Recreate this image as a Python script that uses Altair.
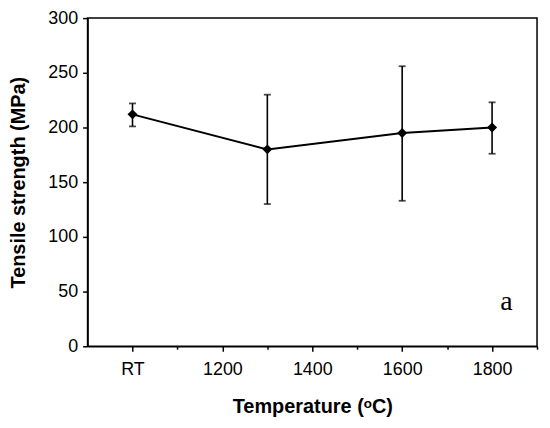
import altair as alt
import pandas as pd

temps = [1000, 1300, 1600, 1800]
strength = [212, 180, 195, 200]
upper = [222, 230, 256, 223]
lower = [201, 130, 133, 176]

x_ticks = [1000, 1100, 1200, 1300, 1400, 1500, 1600, 1700, 1800, 1900]
y_ticks = [0, 25, 50, 75, 100, 125, 150, 175, 200, 225, 250, 275, 300]

note_x = [1832]
note_y = [33]
note_text = ["a"]

df = pd.DataFrame({"T": temps, "S": strength, "hi": upper, "lo": lower})
note = pd.DataFrame({"x": note_x, "y": note_y, "t": note_text})

FONT = "Liberation Sans"

xscale = alt.Scale(domain=[900, 1900], nice=False, zero=False)
yscale = alt.Scale(domain=[0, 300], nice=False)

xaxis = alt.Axis(
    title="Temperature (ᵒC)",
    values=x_ticks,
    labelExpr="datum.value == 1000 ? 'RT' : (datum.value % 200 == 0 ? datum.label : '')",
    tickSize={"condition": {"test": "datum.value % 200 == 0", "value": 5}, "value": 3},
    labelOverlap=False,
    labelFlush=False,
    grid=False,
    format="d",
    labelPadding=9,
    titlePadding=19,
)
yaxis = alt.Axis(
    title="Tensile strength (MPa)",
    values=y_ticks,
    labelExpr="datum.value % 50 == 0 ? datum.label : ''",
    tickSize={"condition": {"test": "datum.value % 50 == 0", "value": 5}, "value": 3},
    labelOverlap=False,
    labelFlush=False,
    grid=False,
    labelPadding=5,
    titlePadding=19,
)

base = alt.Chart(df)

line = base.mark_line(color="black", strokeWidth=2).encode(
    x=alt.X("T:Q", scale=xscale, axis=xaxis),
    y=alt.Y("S:Q", scale=yscale, axis=yaxis),
)
bars = base.mark_rule(color="black", strokeWidth=1.6).encode(
    x="T:Q", y="lo:Q", y2="hi:Q"
)
cap_hi = base.mark_tick(color="black", orient="horizontal", size=7, thickness=1.8).encode(
    x="T:Q", y="hi:Q"
)
cap_lo = base.mark_tick(color="black", orient="horizontal", size=7, thickness=1.8).encode(
    x="T:Q", y="lo:Q"
)
pts = base.mark_point(shape="diamond", filled=True, color="black", size=100, opacity=1).encode(
    x="T:Q", y="S:Q"
)
txt = alt.Chart(note).mark_text(
    font="Liberation Serif", fontSize=28, color="black", align="center", baseline="alphabetic"
).encode(x="x:Q", y="y:Q", text="t:N")

chart = alt.layer(bars, cap_hi, cap_lo, line, pts, txt).properties(
    width=452,
    height=330,
    autosize=alt.AutoSizeParams(type="none"),
    padding={"left": 80, "top": 9, "right": 5, "bottom": 75},
).configure_view(
    stroke="black", strokeWidth=1.5
).configure_axis(
    domainColor="black",
    domainWidth=1.5,
    tickColor="black",
    tickWidth=1.5,
    labelColor="black",
    labelFont=FONT,
    labelFontSize=18,
    titleFont=FONT,
    titleFontSize=20,
    titleFontWeight="bold",
    titleColor="black",
)

chart.save("out.html", embed_options={"renderer": "svg", "actions": False})
